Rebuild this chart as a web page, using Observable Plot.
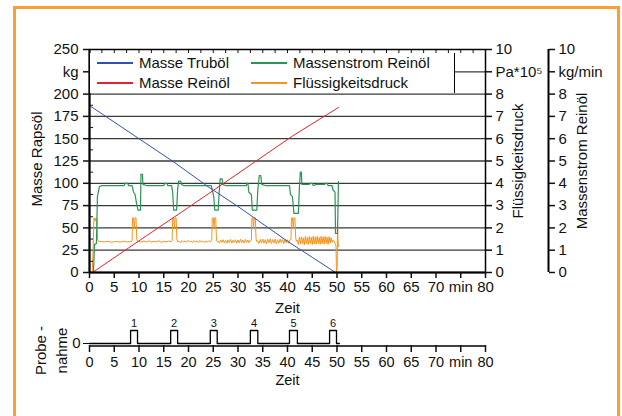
<!DOCTYPE html>
<html><head><meta charset="utf-8">
<script src="https://cdn.jsdelivr.net/npm/d3@7"></script>
<script src="https://cdn.jsdelivr.net/npm/@observablehq/plot@0.6"></script>
<style>
body{margin:0;width:622px;height:416px;overflow:hidden;background:#fff;font-family:"Liberation Sans",Arial,sans-serif;position:relative;}
#frame{position:absolute;left:13px;top:6px;width:601px;height:420px;border:3px solid #f8a031;}
#main,#probe{position:absolute;left:0;}
#main{top:0}
#probe{top:300px}
#legend{position:absolute;left:90px;top:53px;width:364px;height:40px;background:#fff;border-right:1px solid #000;}
.item{position:absolute;font-size:15px;line-height:15px;white-space:nowrap;color:#111}
.ln{display:inline-block;width:36px;height:1.2px;vertical-align:middle;margin-right:6px;position:relative;top:-1px}
</style></head>
<body>
<div id="frame"></div>
<div id="main"></div>
<div id="probe"></div>
<div id="legend"></div>
<script>
// ---------- data ----------
const xTicks = [0,5,10,15,20,25,30,35,40,45,50,55,60,65,70,75,80];
const xMinor = [0,2.5,5,7.5,10,12.5,15,17.5,20,22.5,25,27.5,30,32.5,35,37.5,40,42.5,45,47.5,50,52.5,55,57.5,60,62.5,65,67.5,70,72.5,75,77.5,80];
const kgTicks = [0,25,50,75,100,125,150,175,200,225,250];
const kgMinor = [12.5,37.5,62.5,87.5,112.5,137.5,162.5,187.5,212.5,237.5];
const gridKg = [25,50,75,100,125,150,175,200,225];
const unitRight = 25; // kg per unit on the right-hand axes (0..10 ↔ 0..250)

// Masse Truböl [min, kg]
const masseTruboel = [[0,187],[1,183.5],[10,150],[17,124],[24,96],[30,74],[40,35],[45,17],[49.7,0]];
// Masse Reinöl [min, kg]
const masseReinoel = [[0.6,0],[10,35.5],[20,73],[30,111],[41,153],[50.3,185]];
// Massenstrom Reinöl [min, kg/min]
const massenstrom = [
 [0.8,0],[1.0,1.25],[1.4,1.3],[1.6,3.4],[2.0,3.85],[2.5,3.9],[7.0,3.9],[7.2,4.0],[7.7,4.0],[7.9,3.9],
 [8.6,3.9],[8.9,3.6],[9.2,3.5],[9.5,3.1],[9.8,2.8],[10.3,2.8],[10.4,4.4],[10.7,4.4],[10.8,3.95],[11.5,3.9],
 [15.0,3.9],[15.2,4.0],[15.6,4.0],[15.8,3.9],[16.6,3.9],[16.8,3.6],[17.0,2.8],[17.6,2.8],[17.8,3.7],[18.0,4.1],[18.4,4.1],[18.6,3.95],[19.0,3.9],
 [24.6,3.9],[24.9,3.6],[25.1,3.4],[25.3,2.8],[26.0,2.8],[26.2,3.6],[26.4,4.2],[26.8,4.2],[26.9,3.95],[27.5,3.9],
 [31.7,3.9],[31.8,4.0],[32.0,4.0],[32.2,3.6],[32.7,3.5],[32.9,2.8],[33.8,2.8],[34.0,3.7],[34.3,4.35],[34.6,4.35],[34.8,3.95],[35.5,3.9],
 [40.4,3.9],[40.6,3.5],[41.0,3.4],[41.3,2.65],[42.2,2.65],[42.4,3.8],[42.6,4.5],[42.8,4.5],[42.9,3.95],[44.4,3.95],[44.6,4.0],[45.0,4.0],[45.2,3.9],
 [46.0,3.95],[47.5,3.95],[47.7,4.0],[48.0,4.0],[48.2,3.9],[49.0,3.9],[49.2,3.7],[49.6,3.6],[49.7,1.75],[50.1,1.75],[50.3,4.08]
];
// Flüssigkeitsdruck [min, Pa*10^5]
const druck = [
 [0.55,0],[0.75,1.2],[0.9,2.45],[1.1,2.3],[1.3,2.45],[1.5,2.4],[1.65,1.45],[1.8,1.4],
 [2.0,1.40],[2.5,1.38],[3.0,1.37],[3.5,1.39],[4.0,1.38],[4.5,1.36],[5.0,1.38],[5.5,1.39],[6.0,1.37],[6.5,1.38],[7.0,1.40],[7.5,1.37],[8.0,1.38],[8.5,1.39],
 [8.6,1.45],[8.7,2.45],[8.9,2.45],[9.05,2.0],[9.2,2.45],[9.4,2.45],[9.55,1.5],[9.7,1.38],
 [10.0,1.40],[10.5,1.36],[11,1.41],[11.5,1.37],[12,1.42],[12.5,1.36],[13,1.40],[13.5,1.38],[14,1.42],[14.5,1.35],[15,1.40],[15.5,1.37],[16,1.41],[16.5,1.38],
 [16.7,1.45],[16.8,2.45],[17.0,2.45],[17.15,2.0],[17.3,2.45],[17.5,2.45],[17.65,1.5],[17.8,1.38],
 [18.1,1.40],[18.4,1.34],[18.7,1.43],[19.0,1.36],[19.3,1.42],[19.6,1.35],[19.9,1.44],[20.2,1.37],[20.5,1.41],[20.8,1.34],[21.1,1.43],[21.4,1.36],[21.7,1.42],[22.0,1.35],[22.3,1.44],[22.6,1.37],[22.9,1.41],[23.2,1.34],[23.5,1.42],[23.8,1.36],[24.1,1.43],[24.4,1.37],
 [24.7,1.45],[24.8,2.45],[25.0,2.45],[25.15,2.0],[25.3,2.45],[25.5,2.45],[25.65,1.5],[25.8,1.38],
 [26.0,1.40],[26.25,1.32],[26.5,1.45],[26.75,1.35],[27.0,1.47],[27.25,1.33],[27.5,1.44],[27.75,1.31],[28.0,1.46],[28.25,1.34],[28.5,1.48],[28.75,1.32],[29.0,1.45],[29.25,1.35],[29.5,1.47],[29.75,1.31],[30.0,1.46],[30.25,1.33],[30.5,1.49],[30.75,1.34],[31.0,1.45],[31.25,1.32],[31.5,1.48],[31.75,1.35],[32.0,1.46],[32.25,1.33],[32.5,1.44],
 [32.7,1.45],[32.8,2.45],[33.0,2.45],[33.15,2.0],[33.3,2.45],[33.5,2.45],[33.65,1.5],[33.8,1.38],
 [34.0,1.42],[34.25,1.30],[34.5,1.48],[34.75,1.32],[35.0,1.50],[35.25,1.31],[35.5,1.47],[35.75,1.29],[36.0,1.49],[36.25,1.33],[36.5,1.51],[36.75,1.30],[37.0,1.48],[37.25,1.32],[37.5,1.50],[37.75,1.29],[38.0,1.47],[38.25,1.31],[38.5,1.50],[38.75,1.33],[39.0,1.48],[39.25,1.30],[39.5,1.49],[39.75,1.32],[40.0,1.47],[40.25,1.31],[40.5,1.46],
 [40.7,1.5],[40.8,2.45],[41.0,2.45],[41.15,2.0],[41.3,2.45],[41.5,2.45],[41.65,1.55],[41.8,1.4],
 [42.0,1.45],[42.2,1.25],[42.4,1.58],[42.6,1.28],[42.8,1.60],[43.0,1.30],[43.2,1.56],[43.4,1.24],[43.6,1.62],[43.8,1.29],[44.0,1.57],[44.2,1.26],[44.4,1.61],[44.6,1.30],[44.8,1.58],[45.0,1.25],[45.2,1.63],[45.4,1.28],[45.6,1.59],[45.8,1.27],[46.0,1.62],[46.2,1.30],[46.4,1.57],[46.6,1.26],[46.8,1.63],[47.0,1.29],[47.2,1.60],[47.4,1.27],[47.6,1.62],[47.8,1.30],[48.0,1.58],[48.2,1.26],[48.4,1.61],[48.6,1.31],[48.8,1.56],[49.0,1.35],[49.2,1.45],[49.4,1.40],[49.6,1.30],[49.8,1.20],[49.9,0],[50.05,0.3],[50.1,2.25],[50.2,1.5],[50.3,1.15]
];
// Probenahme (sampling) pulses [min]
const probeNr = ["1","2","3","4","5","6"];
const probeStart = [8.3,16.4,24.4,32.5,40.4,48.5];
const probeEnd = [9.7,17.8,25.8,34.0,42.0,49.9];
const probeLineEnd = 50.5;

const series = [
  {name:"Masse Truböl", color:"#3350b5"},
  {name:"Masse Reinöl", color:"#e8212b"},
  {name:"Massenstrom Reinöl", color:"#2a9455"},
  {name:"Flüssigkeitsdruck", color:"#f7941d"}
];

// ---------- main chart ----------
const font = '"Liberation Sans", Arial, sans-serif';
const fmtX = d => d === 75 ? "min" : String(d);
const main = Plot.plot({
  width: 622, height: 320,
  marginLeft: 89, marginRight: 137, marginTop: 49, marginBottom: 48,
  x: {domain: [0, 80]},
  y: {domain: [0, 250]},
  style: {fontFamily: font, fontSize: "15px", background: "transparent", overflow: "visible", color: "#111"},
  marks: [
    Plot.ruleY(gridKg, {stroke: "#3a3a3a", strokeWidth: 1.3}),
    Plot.line(druck, {x: d => d[0], y: d => d[1] * unitRight, stroke: series[3].color, strokeWidth: 1}),
    Plot.line(massenstrom, {x: d => d[0], y: d => d[1] * unitRight, stroke: series[2].color, strokeWidth: 1.2}),
    Plot.line(masseReinoel, {x: d => d[0], y: d => d[1], stroke: series[1].color, strokeWidth: 1}),
    Plot.line(masseTruboel, {x: d => d[0], y: d => d[1], stroke: series[0].color, strokeWidth: 1}),
    Plot.frame({stroke: "#000", strokeWidth: 1.5}),
    Plot.ruleX([0], {stroke: "#000", strokeWidth: 2}),
    Plot.ruleY([0], {stroke: "#000", strokeWidth: 2}),
    // left axis
    Plot.axisY({anchor: "left", ticks: kgTicks, tickFormat: d => d === 225 ? "kg" : String(d), tickSize: 6, tickPadding: 5, label: null, fontSize: 15, strokeWidth: 1.5}),
    Plot.axisY({anchor: "left", ticks: kgMinor, tickFormat: () => "", tickSize: 4, dx: 4, label: null}),
    // bottom axis + top minor ticks
    Plot.axisX({anchor: "bottom", ticks: xTicks, tickFormat: fmtX, tickSize: 6, tickPadding: 3, label: null, fontSize: 15, strokeWidth: 1.5}),
    Plot.axisX({anchor: "top", ticks: xMinor, tickFormat: () => "", tickSize: 3, dy: 3, label: null}),
    // right axis 1: Flüssigkeitsdruck
    Plot.axisY({anchor: "right", ticks: kgTicks, tickFormat: d => d === 225 ? "Pa*10⁵" : String(d / unitRight), tickSize: 6, tickPadding: 4, label: null, fontSize: 15, strokeWidth: 1.5}),
    // right axis 2: Massenstrom Reinöl
    Plot.ruleX([80], {dx: 63, stroke: "#000", strokeWidth: 2}),
    Plot.axisY({anchor: "right", dx: 63, ticks: kgTicks, tickFormat: d => d === 225 ? "kg/min" : String(d / unitRight), tickSize: 6, tickPadding: 4, label: null, fontSize: 15, strokeWidth: 1.5}),
    // axis titles
    Plot.text(["Masse Rapsöl"], {frameAnchor: "left", textAnchor: "middle", lineAnchor: "middle", dx: -52, dy: -2, rotate: -90, fontSize: 15}),
    Plot.text(["Flüssigkeitsdruck"], {frameAnchor: "right", textAnchor: "middle", lineAnchor: "middle", dx: 33, rotate: -90, fontSize: 15}),
    Plot.text(["Massenstrom Reinöl"], {frameAnchor: "right", textAnchor: "middle", lineAnchor: "middle", dx: 97, rotate: -90, fontSize: 15}),
    Plot.text(["Zeit"], {frameAnchor: "bottom", textAnchor: "middle", lineAnchor: "middle", dy: 36, fontSize: 15})
  ]
});
document.getElementById("main").append(main);

// ---------- legend ----------
const legend = document.getElementById("legend");
const pos = [[7, 2], [7, 22], [161, 2], [161, 22]];
series.forEach((s, i) => {
  const el = document.createElement("div");
  el.className = "item";
  el.style.left = pos[i][0] + "px";
  el.style.top = pos[i][1] + "px";
  const ln = document.createElement("span");
  ln.className = "ln";
  ln.style.background = s.color;
  el.append(ln, document.createTextNode(s.name));
  legend.append(el);
});

// ---------- sampling subplot ----------
const probeLine = [[0, 0]];
probeStart.forEach((s, i) => {
  probeLine.push([s, 0], [s, 1], [probeEnd[i], 1], [probeEnd[i], 0]);
});
probeLine.push([probeLineEnd, 0]);
const probeLabels = probeNr.map((n, i) => ({n, x: (probeStart[i] + probeEnd[i]) / 2}));

const probe = Plot.plot({
  width: 622, height: 100,
  marginLeft: 89, marginRight: 137, marginTop: 0, marginBottom: 55,
  x: {domain: [0, 80]},
  y: {domain: [0, 1], range: [43, 30]},
  style: {fontFamily: font, fontSize: "15px", background: "transparent", overflow: "visible", color: "#111"},
  marks: [
    Plot.ruleY([0], {dy: 2.5, stroke: "#000", strokeWidth: 1.5}),
    Plot.line(probeLine, {x: d => d[0], y: d => d[1], stroke: "#000", strokeWidth: 1.3}),
    Plot.text(probeLabels, {x: "x", y: () => 1, text: "n", dy: -7, fontSize: 11}),
    Plot.axisX({anchor: "bottom", ticks: xTicks, tickFormat: fmtX, tickSize: 7, tickPadding: 4, label: null, fontSize: 14.5, strokeWidth: 1.5}),
    Plot.text(["Zeit"], {frameAnchor: "bottom", textAnchor: "middle", lineAnchor: "middle", dy: 35, fontSize: 14.5}),
    Plot.text(["Probe -\nnahme"], {frameAnchor: "left", textAnchor: "middle", lineAnchor: "middle", dx: -39.5, dy: 27.5, rotate: -90, lineHeight: 1.4, fontSize: 15})
  ]
});
document.getElementById("probe").append(probe);
</script>
</body></html>
